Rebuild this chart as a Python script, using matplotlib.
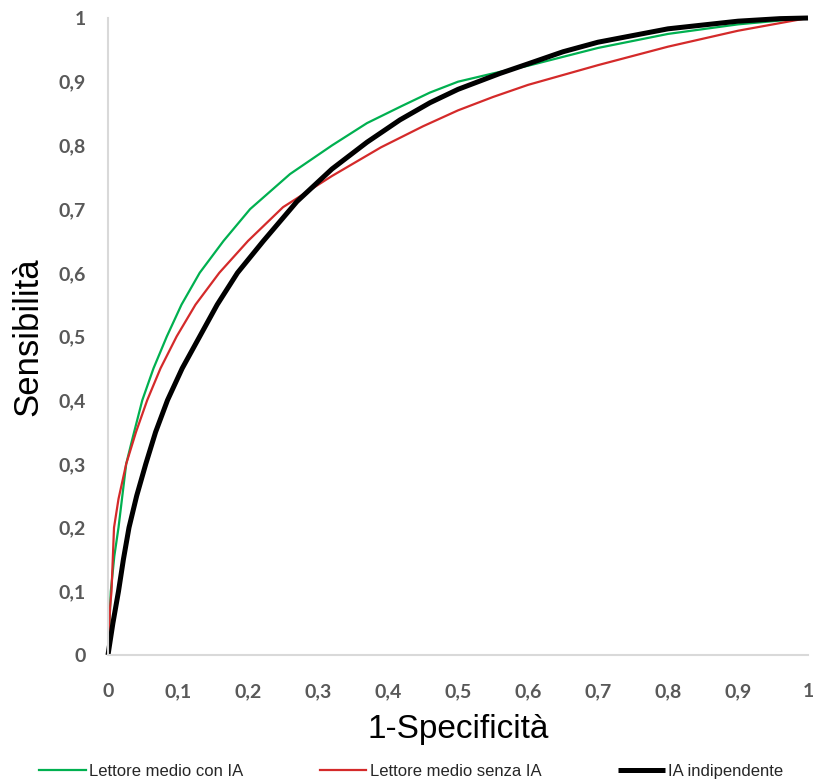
import matplotlib
matplotlib.use("Agg")
import matplotlib.pyplot as plt

# ROC curves (1-specificity, sensitivity)
fpr_con_ia = [0, 0.004, 0.009, 0.015, 0.026, 0.035, 0.049, 0.065, 0.084, 0.105, 0.131, 0.165, 0.203,
              0.26, 0.32, 0.37, 0.42, 0.46, 0.5, 0.55, 0.6, 0.7, 0.8, 0.9, 1.0]
tpr_con_ia = [0, 0.1, 0.155, 0.2, 0.3, 0.34, 0.4, 0.45, 0.5, 0.55, 0.6, 0.65, 0.7,
              0.755, 0.8, 0.835, 0.862, 0.883, 0.9, 0.913, 0.925, 0.953, 0.975, 0.99, 1.0]

fpr_senza_ia = [0, 0.003, 0.005, 0.0086, 0.015, 0.026, 0.04, 0.056, 0.075, 0.098, 0.125, 0.159, 0.2,
                0.25, 0.32, 0.39, 0.45, 0.5, 0.55, 0.6, 0.7, 0.8, 0.9, 1.0]
tpr_senza_ia = [0, 0.075, 0.1, 0.2, 0.245, 0.3, 0.35, 0.4, 0.45, 0.5, 0.55, 0.6, 0.65,
                0.703, 0.752, 0.797, 0.83, 0.855, 0.876, 0.895, 0.926, 0.955, 0.98, 1.0]

fpr_ia = [0, 0.007, 0.015, 0.022, 0.030, 0.041, 0.054, 0.068, 0.085, 0.106, 0.131, 0.156, 0.185,
          0.222, 0.27, 0.32, 0.37, 0.417, 0.46, 0.5, 0.56, 0.6, 0.65, 0.7, 0.8, 0.9, 0.96, 1.0]
tpr_ia = [0, 0.05, 0.1, 0.15, 0.2, 0.25, 0.3, 0.35, 0.4, 0.45, 0.5, 0.55, 0.6,
          0.65, 0.712, 0.763, 0.805, 0.84, 0.867, 0.888, 0.913, 0.928, 0.947, 0.962, 0.983, 0.995, 0.999, 1.0]

ticks = [0, 0.1, 0.2, 0.3, 0.4, 0.5, 0.6, 0.7, 0.8, 0.9, 1.0]
tick_labels = ["0", "0,1", "0,2", "0,3", "0,4", "0,5", "0,6", "0,7", "0,8", "0,9", "1"]

fig = plt.figure(figsize=(8.14, 7.84), dpi=100)
ax = fig.add_axes([108 / 814, 1 - 655 / 784, 700 / 814, 637 / 784])

ax.plot(fpr_con_ia, tpr_con_ia, color="#00b050", lw=1.6, label="Lettore medio con IA")
ax.plot(fpr_senza_ia, tpr_senza_ia, color="#d42a2a", lw=1.6, label="Lettore medio senza IA")
ax.plot(fpr_ia, tpr_ia, color="black", lw=3.6, label="IA indipendente",
        solid_capstyle="butt", clip_on=False)

ax.set_xlim(0, 1)
ax.set_ylim(0, 1)
ax.set_xticks(ticks)
ax.set_xticklabels(tick_labels)
ax.set_yticks(ticks)
ax.set_yticklabels(tick_labels)
ax.tick_params(length=0, labelsize=14, labelcolor="#595959")
ax.tick_params(axis="y", pad=16)
ax.tick_params(axis="x", pad=20)
for lab in ax.get_xticklabels() + ax.get_yticklabels():
    lab.set_fontweight("bold")
    lab.set_family("Lato")

for side in ["top", "right"]:
    ax.spines[side].set_visible(False)
for side in ["left", "bottom"]:
    ax.spines[side].set_color("#d9d9d9")
    ax.spines[side].set_linewidth(1.5)

ax.set_xlabel("1-Specificità", fontsize=24, family="Liberation Sans", labelpad=10)
ax.set_ylabel("Sensibilità", fontsize=25, family="Liberation Sans", labelpad=10)

fig.legend(loc="lower center", bbox_to_anchor=(0.505, -0.013), ncol=3, frameon=False,
           prop={"family": "Liberation Sans", "size": 12}, handlelength=2.8,
           handletextpad=0.2, columnspacing=4.6, labelcolor="#262626")

fig.savefig("out.png", dpi=100)
